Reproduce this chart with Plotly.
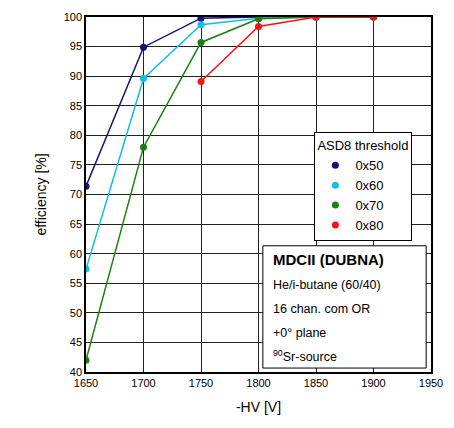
import plotly.graph_objects as go

hv = [1650, 1700, 1750, 1800, 1850, 1900]
eff_0x50 = [71.4, 94.9, 99.8, 100.0, 100.0, 100.0]
eff_0x60 = [57.4, 89.6, 98.7, 99.8, 100.0, 100.0]
eff_0x70 = [42.0, 78.0, 95.7, 99.7, 100.0, 100.0]
hv_0x80 = [1750, 1800, 1850, 1900]
eff_0x80 = [89.1, 98.4, 100.0, 100.0]

series = [
    ("0x50", hv, eff_0x50, "#14127a"),
    ("0x60", hv, eff_0x60, "#11bfe6"),
    ("0x70", hv, eff_0x70, "#1a8010"),
    ("0x80", hv_0x80, eff_0x80, "#ff1010"),
]

info_lines = ["<b>MDCII (DUBNA)</b>", "He/i-butane (60/40)", "16 chan. com OR",
              "+0° plane", "<sup>90</sup>Sr-source"]

fig = go.Figure()
for name, x, y, c in series:
    fig.add_trace(go.Scatter(x=x, y=y, mode="lines+markers", name=name,
                             line=dict(color=c, width=1.5),
                             marker=dict(color=c, size=7), showlegend=False))
for name, x, y, c in series:
    fig.add_trace(go.Scatter(x=[None], y=[None], mode="markers", name=name,
                             marker=dict(color=c, size=7), showlegend=True))

font = "Liberation Sans, Arial, sans-serif"
fig.update_layout(
    width=454, height=428,
    margin=dict(l=86, r=13, t=11, b=56),
    plot_bgcolor="white", paper_bgcolor="white",
    font=dict(family=font, size=11, color="black"),
    xaxis=dict(range=[1650, 1950], tickvals=list(range(1650, 1951, 50)),
               showgrid=True, gridcolor="#222", gridwidth=1,
               showline=True, linecolor="black", linewidth=1.5, mirror=True,
               zeroline=False, ticks="", ticklen=0,
               title=dict(text="-HV [V]", font=dict(size=14), standoff=14)),
    yaxis=dict(range=[40, 100], tickvals=list(range(40, 101, 5)),
               showgrid=True, gridcolor="#222", gridwidth=1,
               showline=True, linecolor="black", linewidth=1.5, mirror=True,
               zeroline=False, ticks="",
               title=dict(text="efficiency [%]", font=dict(size=14), standoff=14)),
    legend=dict(x=0.662, y=0.675, xanchor="left", yanchor="top",
                bgcolor="white", bordercolor="black", borderwidth=1,
                title=dict(text="ASD8 threshold", font=dict(size=13)),
                font=dict(size=13), itemwidth=30, tracegroupgap=0),
    shapes=[dict(type="rect", xref="paper", yref="paper",
                 x0=(268 - 86) / 355, x1=(436 - 86) / 355,
                 y0=1 - (367 - 11) / 360, y1=1 - (243 - 11) / 360,
                 line=dict(color="black", width=1), fillcolor="white", layer="above")],
)

ys = [257, 283, 307, 331, 355]
for txt, yp in zip(info_lines, ys):
    fig.add_annotation(text=txt, xref="paper", yref="paper",
                       x=(276 - 86) / 355, y=1 - (yp - 11) / 360,
                       xanchor="left", yanchor="middle", showarrow=False,
                       font=dict(size=15 if "MDCII" in txt else 12.5))

fig.write_html("out.html")
